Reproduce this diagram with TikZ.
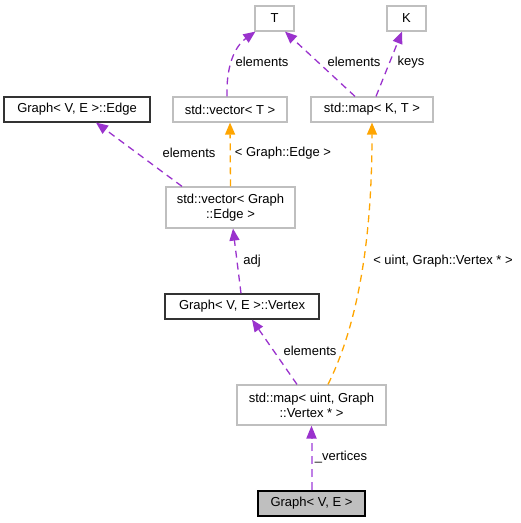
\documentclass[tikz,border=0pt]{standalone}
\usepackage{fontspec}
\setmainfont{Liberation Sans}
\usetikzlibrary{arrows.meta,calc}
\definecolor{usepurple}{HTML}{9A32CD}
\definecolor{lightpurple}{HTML}{BF7FE6}
\definecolor{tplorange}{HTML}{FFA500}
\definecolor{boxgray}{HTML}{BFBFBF}
\begin{document}
\begin{tikzpicture}[x=1pt,y=-1pt,
  every node/.style={font=\fontsize{13}{15}\selectfont, inner sep=0pt, align=center},
  extbox/.style={draw=boxgray, line width=1.2pt, fill=white},
  clsbox/.style={draw=black!80, line width=1.2pt, fill=white},
  rootbox/.style={draw=black, line width=1.2pt, fill=boxgray},
  uses/.style={draw=usepurple, line width=1.3pt, dash pattern=on 7pt off 5pt, -{Triangle[length=12pt,width=10pt]}},
  usesthick/.style={draw=lightpurple, line width=2pt, dash pattern=on 8pt off 5pt, -{Triangle[length=13pt,width=10pt,color=usepurple]}},
  tpl/.style={draw=tplorange, line width=1.3pt, dash pattern=on 7pt off 5pt, -{Triangle[length=12pt,width=10pt]}},
  lbl/.style={anchor=center}
]
\useasboundingbox (0,0) rectangle (521,523);
% nodes
\node[extbox, minimum width=39pt, minimum height=25pt] (T) at (274.5,18.5) {T};
\node[extbox, minimum width=39pt, minimum height=25pt] (K) at (406.5,18.5) {K};
\node[clsbox, minimum width=146pt, minimum height=25pt] (Edge) at (77,109.5) {Graph< V, E >::Edge};
\node[extbox, minimum width=114pt, minimum height=25pt] (vecT) at (230,109.5) {std::vector< T >};
\node[extbox, minimum width=122pt, minimum height=25pt] (mapKT) at (372,109.5) {std::map< K, T >};
\node[extbox, minimum width=129pt, minimum height=41pt] (vecE) at (230.5,207.5) {std::vector< Graph\\::Edge >};
\node[clsbox, minimum width=154pt, minimum height=25pt] (Vertex) at (242,306.5) {Graph< V, E >::Vertex};
\node[extbox, minimum width=149pt, minimum height=40pt] (mapU) at (311.5,405) {std::map< uint, Graph\\::Vertex * >};
\node[rootbox, minimum width=107pt, minimum height=25pt] (Graph) at (311.5,503.5) {Graph< V, E >};
% edges
\draw[uses] ($(vecT.north)+(-3,0)$) .. controls (226,60) and (238,44) .. ($(T.south west)+(1,0)$);
\draw[uses] ($(mapKT.north)+(-17,0)$) -- ($(T.south)+(10.5,0)$);
\draw[uses] ($(mapKT.north)+(4,0)$) -- ($(K.south)+(-4.5,0)$);
\draw[uses] ($(vecE.north)+(-48.5,0)$) -- ($(Edge.south)+(19,0)$);
\draw[tpl] (vecE.north) -- (vecT.south);
\draw[uses] ($(Vertex.north)+(-1,0)$) -- ($(vecE.south)+(2.5,0)$);
\draw[uses] ($(mapU.north)+(-14.5,0)$) -- ($(Vertex.south)+(10,0)$);
\draw[tpl] ($(mapU.north)+(16.5,0)$) .. controls (365,310) and (372,210) .. (mapKT.south);
\draw[usesthick] (Graph.north) -- (mapU.south);
% labels
\node[lbl] (l1) at (262,62) {elements};
\node[lbl] (l2) at (354,62) {elements};
\node[lbl] (l3) at (411,62) {keys};
\node[lbl] (l4) at (189,153) {elements};
\node[lbl] (l5) at (283,153) {< Graph::Edge >};
\node[lbl] (l6) at (252,261) {adj};
\node[lbl] (l7) at (443,261) {< uint, Graph::Vertex * >};
\node[lbl] (l8) at (310,351) {elements};
\node[lbl] (l9) at (341,457) {\_vertices};
\end{tikzpicture}
\end{document}
